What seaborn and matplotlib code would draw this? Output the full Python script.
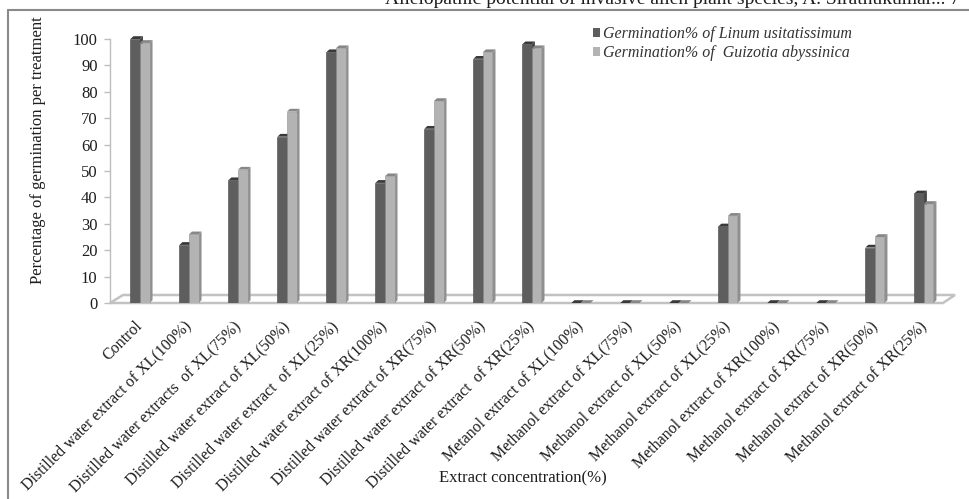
import numpy as np
import pandas as pd
import seaborn as sns
import matplotlib.pyplot as plt
from matplotlib.patches import Polygon, Patch
from matplotlib.lines import Line2D

# ---- data -------------------------------------------------------------
treatments = [
    "Control",
    "Distilled water extract of XL(100%)",
    "Distilled water extracts  of XL(75%)",
    "Distilled water extract of XL(50%)",
    "Distilled water extract  of XL(25%)",
    "Distilled water extract of XR(100%)",
    "Distilled water extract of XR(75%)",
    "Distilled water extract of XR(50%)",
    "Distilled water extract  of XR(25%)",
    "Metanol extract of XL(100%)",
    "Methanol extract of XL(75%)",
    "Methanol extract of XL(50%)",
    "Methanol extract of XL(25%)",
    "Methanol extract of XR(100%)",
    "Methanol extract of XR(75%)",
    "Methanol extract of XR(50%)",
    "Methanol extract of XR(25%)",
]
linum = [100, 22, 46.5, 63, 95, 45.5, 66, 92.5, 98, 0, 0, 0, 29, 0, 0, 21, 41.5]
guizotia = [98.5, 26, 50.5, 72.5, 96.5, 48, 76.5, 95, 96.5, 0, 0, 0, 33, 0, 0, 25, 37.5]
series = ["Germination% of Linum usitatissimum", "Germination% of  Guizotia abyssinica"]
yticks = list(range(0, 101, 10))

front_col = ["#5e5e5e", "#b3b3b3"]
side_col = ["#464646", "#8f8f8f"]
top_col = ["#3a3a3a", "#878787"]

df = pd.DataFrame({
    "Treatment": treatments * 2,
    "Germination": linum + guizotia,
    "Series": [series[0]] * len(treatments) + [series[1]] * len(treatments),
})

# ---- figure -----------------------------------------------------------
sns.set_theme(style="white")
plt.rcParams["font.family"] = ["Liberation Serif", "DejaVu Serif"]
TXT = "#1e1e1e"

W, H = 969, 499
fig = plt.figure(figsize=(W / 100, H / 100), dpi=100)
fig.patch.set_facecolor("white")
ax = fig.add_axes([110 / W, (H - 303) / H, (943 - 110) / W, (303 - 39) / H])
ax.set_facecolor("none")

sns.barplot(data=df, x="Treatment", y="Germination", hue="Series",
            order=treatments, hue_order=series, palette=front_col,
            saturation=1, width=0.39, linewidth=0, legend=False, ax=ax)

ax.set_xlim(-0.612, 16.39)
ax.set_ylim(0, 100)

# ---- pseudo-3D floor and bar faces -----------------------------------
to_disp = ax.transData.transform
to_data = ax.transData.inverted().transform

fl, fr = ax.get_xlim()
(fx0, fy0), (fx1, _) = to_disp([(fl, 0), (fr, 0)])
floor = Polygon(to_data([(fx0, fy0), (fx1, fy0), (fx1 + 12, fy0 + 8), (fx0 + 13, fy0 + 8)]),
                closed=True, facecolor="white", edgecolor="#c2c2c2", lw=1.8,
                zorder=1, clip_on=False)
ax.add_patch(floor)

dx, dy = 3.0, 2.8
n = len(treatments)
for i, bar in enumerate(list(ax.patches)):
    if bar is floor:
        continue
    lvl = i // n
    x0, w, h = bar.get_x(), bar.get_width(), bar.get_height()
    (px0, py0), (px1, py1) = to_disp([(x0, 0), (x0 + w, h)])
    base_z = 3 if lvl == 0 else 5
    bar.set_zorder(base_z)
    bar.set_edgecolor(side_col[lvl])
    bar.set_linewidth(0.4)
    side = Polygon(to_data([(px1, py0), (px1 + dx, py0 + dy), (px1 + dx, py1 + dy), (px1, py1)]),
                   closed=True, facecolor=side_col[lvl], edgecolor="none",
                   zorder=base_z - 0.1, clip_on=False)
    top = Polygon(to_data([(px0, py1), (px0 + dx, py1 + dy), (px1 + dx, py1 + dy), (px1, py1)]),
                  closed=True, facecolor=top_col[lvl], edgecolor="none",
                  zorder=base_z - 0.1, clip_on=False)
    ax.add_patch(side)
    ax.add_patch(top)

# ---- axes styling ----------------------------------------------------
for s in ["top", "right", "bottom"]:
    ax.spines[s].set_visible(False)
ax.spines["left"].set_color("#bdbdbd")
ax.spines["left"].set_linewidth(1.0)

ax.set_yticks(yticks)
ax.set_yticklabels([str(t) for t in yticks])
ax.tick_params(axis="y", left=True, length=4, width=1, color="#bdbdbd",
               pad=5, labelsize=12, labelcolor=TXT)
ax.set_xticks(range(n))
ax.set_xticklabels(treatments, rotation=45, ha="right", va="center",
                   rotation_mode="anchor", fontsize=11.5, color=TXT)
ax.tick_params(axis="x", bottom=False, length=0, pad=15)
ax.set_xlabel("")
ax.set_ylabel("")

fig.text(38 / W, 1 - 150 / H, "Percentage of germination per treatment",
         rotation=90, ha="center", va="center", fontsize=12, color=TXT)
fig.text(523 / W, 1 - 478 / H, "Extract concentration(%)",
         ha="center", va="center", fontsize=12, color=TXT)

# ---- legend ----------------------------------------------------------
handles = [Patch(facecolor=front_col[0], edgecolor="none"),
           Patch(facecolor=front_col[1], edgecolor="none")]
ax.legend(handles, series, loc="upper left",
          bbox_to_anchor=(585 / W, 1 - 18 / H), bbox_transform=fig.transFigure,
          frameon=False, handlelength=0.45, handleheight=0.45,
          handletextpad=0.2, labelspacing=0.2, borderpad=0,
          prop={"style": "italic", "size": 11.5}, labelcolor="#333333")

# ---- page frame and running header -----------------------------------
fig.add_artist(Line2D([8 / W, 1], [1 - 10 / H, 1 - 10 / H], transform=fig.transFigure,
                      color="#8a8a8a", lw=1.5))
fig.add_artist(Line2D([8 / W, 8 / W], [0, 1 - 10 / H], transform=fig.transFigure,
                      color="#8a8a8a", lw=1.5))
fig.text(385 / W, 1 - 4 / H,
         "Allelopathic potential of invasive alien plant species, A. Sirathukumar... 7",
         ha="left", va="baseline", fontsize=14, color=TXT)

fig.savefig("out.png", dpi=100)
